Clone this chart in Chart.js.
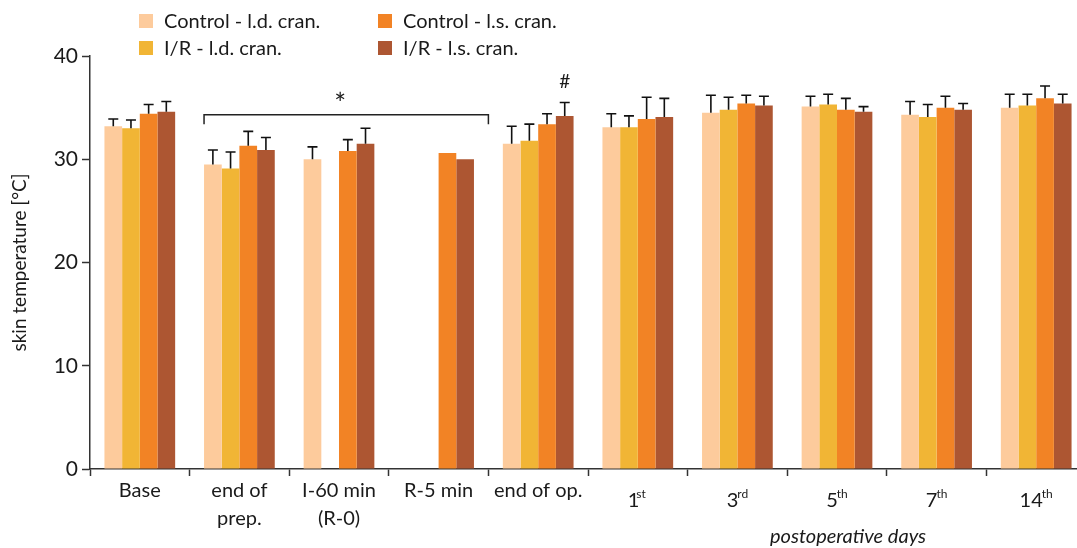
<!DOCTYPE html>
<html>
<head>
<meta charset="utf-8">
<script src="https://cdn.jsdelivr.net/npm/chart.js@4/dist/chart.umd.min.js"></script>
<style>
  html, body { margin: 0; background: #fff; overflow: hidden; }
  /* canvas is a bit wider than the window: the last category runs past the right edge */
  #wrap { width: 1077px; height: 548px; overflow: hidden; }
</style>
</head>
<body>
<div id="wrap">
  <canvas id="myChart" width="1086" height="548"></canvas>
</div>
<script>
  // categories (multi-line labels as arrays)
  const categories = ['Base', ['end of', 'prep.'], ['I-60 min', '(R-0)'], 'R-5 min', 'end of op.', '1st', '3rd', '5th', '7th', '14th'];
  const seriesNames = ['Control - l.d. cran.', 'I/R - l.d. cran.', 'Control - l.s. cran.', 'I/R - l.s. cran.'];
  const yTicks = [0, 10, 20, 30, 40];

  // mean values
  const ctrlLd = [33.2, 29.5, 30.0, null, 31.5, 33.1, 34.5, 35.1, 34.3, 35.0];
  const irLd   = [33.0, 29.1, null, null, 31.8, 33.1, 34.8, 35.3, 34.1, 35.2];
  const ctrlLs = [34.4, 31.3, 30.8, 30.6, 33.4, 33.9, 35.4, 34.8, 35.0, 35.9];
  const irLs   = [34.6, 30.9, 31.5, 30.0, 34.2, 34.1, 35.2, 34.6, 34.8, 35.4];

  // SD (upper error bars only)
  const ctrlLdSd = [0.7, 1.4, 1.2, null, 1.7, 1.3, 1.7, 1.0, 1.3, 1.3];
  const irLdSd   = [0.8, 1.6, null, null, 1.6, 1.1, 1.2, 1.0, 1.2, 1.1];
  const ctrlLsSd = [0.9, 1.4, 1.1, null, 1.0, 2.1, 0.8, 1.1, 1.1, 1.2];
  const irLsSd   = [1.0, 1.2, 1.5, null, 1.3, 1.8, 0.9, 0.5, 0.6, 0.9];

  const colors = ['#FDCB9C', '#F1B535', '#F28325', '#AD5632'];
  const FONT = 'Lato, "Open Sans", sans-serif';
  const INK = '#1a1a1a';

  const isOrdinal = (l) => typeof l === 'string' && /^\d+(st|nd|rd|th)$/.test(l);

  // error bars, legend, annotations, superscript labels
  const extras = {
    id: 'extras',
    afterDatasetsDraw(chart) {
      const ctx = chart.ctx;
      const y = chart.scales.y;
      ctx.save();
      ctx.strokeStyle = '#111';
      ctx.lineWidth = 1.6;
      chart.data.datasets.forEach((ds, di) => {
        const meta = chart.getDatasetMeta(di);
        ds.sd.forEach((sd, i) => {
          const v = ds.data[i];
          if (v == null || sd == null) return;
          const bar = meta.data[i];
          const top = y.getPixelForValue(v + sd);
          ctx.beginPath();
          ctx.moveTo(bar.x, bar.y);
          ctx.lineTo(bar.x, top);
          ctx.moveTo(bar.x - 5, top);
          ctx.lineTo(bar.x + 5, top);
          ctx.stroke();
        });
      });
      ctx.restore();
    },
    afterDraw(chart) {
      const ctx = chart.ctx;
      const x = chart.scales.x, y = chart.scales.y;
      ctx.save();

      // legend, 2 columns
      const legPos = [[139, 21], [139, 48], [378, 21], [378, 48]];
      ctx.font = '20px ' + FONT;
      ctx.textBaseline = 'middle';
      ctx.textAlign = 'left';
      chart.data.datasets.forEach((ds, i) => {
        const [lx, ly] = legPos[i];
        ctx.fillStyle = ds.backgroundColor;
        ctx.fillRect(lx, ly - 7, 14, 14);
        ctx.fillStyle = INK;
        ctx.fillText(ds.label, lx + 25, ly + 1);
      });

      // bracket over end of prep .. R-5 min with *
      const m0 = chart.getDatasetMeta(0);
      const bx1 = m0.data[1].x - m0.data[1].width / 2;
      const bx2 = (x.getPixelForValue(3) + x.getPixelForValue(4)) / 2;
      const by = y.getPixelForValue(34.3);
      const byEnd = y.getPixelForValue(33.4);
      ctx.strokeStyle = '#222';
      ctx.lineWidth = 1.5;
      ctx.beginPath();
      ctx.moveTo(bx1, byEnd);
      ctx.lineTo(bx1, by);
      ctx.lineTo(bx2, by);
      ctx.lineTo(bx2, byEnd);
      ctx.stroke();
      ctx.fillStyle = INK;
      ctx.textAlign = 'center';
      ctx.font = '28px ' + FONT;
      ctx.fillText('*', (bx1 + bx2) / 2 - 6, y.getPixelForValue(35.3));

      // # above I/R l.s. at end of op.
      const m3 = chart.getDatasetMeta(3);
      ctx.font = '19px ' + FONT;
      ctx.fillText('#', m3.data[4].x, y.getPixelForValue(37.5));

      // ordinal labels with superscript suffix
      categories.forEach((lab, i) => {
        if (!isOrdinal(lab)) return;
        const num = lab.slice(0, -2), suf = lab.slice(-2);
        ctx.font = '20px ' + FONT;
        const wn = ctx.measureText(num).width;
        ctx.font = '12px ' + FONT;
        const ws = ctx.measureText(suf).width;
        const cx = x.getPixelForValue(i);
        const sx = cx - (wn + ws - 1) / 2;
        ctx.textAlign = 'left';
        ctx.textBaseline = 'alphabetic';
        ctx.font = '20px ' + FONT;
        ctx.fillText(num, sx, 507);
        ctx.font = '12px ' + FONT;
        ctx.fillText(suf, sx + wn - (num === '1' ? 3 : 1), 498);
      });

      // group caption
      ctx.font = 'italic 20px ' + FONT;
      ctx.textAlign = 'center';
      ctx.textBaseline = 'middle';
      ctx.fillText('postoperative days', 848, 537);
      ctx.restore();
    }
  };

  const ctx = document.getElementById('myChart');
  new Chart(ctx, {
    type: 'bar',
    data: {
      labels: categories,
      datasets: [
        { label: seriesNames[0], data: ctrlLd, sd: ctrlLdSd, backgroundColor: colors[0] },
        { label: seriesNames[1], data: irLd, sd: irLdSd, backgroundColor: colors[1] },
        { label: seriesNames[2], data: ctrlLs, sd: ctrlLsSd, backgroundColor: colors[2] },
        { label: seriesNames[3], data: irLs, sd: irLsSd, backgroundColor: colors[3] }
      ]
    },
    options: {
      responsive: false,
      animation: false,
      layout: { padding: { top: 56, right: 0, bottom: 0, left: 0 } },
      datasets: { bar: { categoryPercentage: 0.71, barPercentage: 1.0 } },
      plugins: { legend: { display: false }, tooltip: { enabled: false } },
      scales: {
        x: {
          grid: { drawOnChartArea: false, drawTicks: true, tickLength: 7, tickColor: '#333', tickWidth: 1.5, offset: true },
          border: { color: '#333', width: 1.5 },
          ticks: {
            font: { family: FONT, size: 20, lineHeight: 1.4 },
            color: INK,
            padding: 1,
            maxRotation: 0,
            autoSkip: false,
            callback: (v, i) => isOrdinal(categories[i]) ? '' : categories[i]
          },
          afterFit: (s) => { s.height = 79; }
        },
        y: {
          min: 0,
          max: 40,
          afterBuildTicks: (s) => { s.ticks = yTicks.map(v => ({ value: v })); },
          grid: { drawOnChartArea: false, drawTicks: true, tickLength: 8, tickColor: '#333', tickWidth: 1.5 },
          border: { color: '#333', width: 1.5 },
          ticks: { font: { family: FONT, size: 21 }, color: INK, padding: 4 },
          title: { display: true, text: 'skin temperature [°C]', font: { family: FONT, size: 19 }, color: INK, padding: 8 },
          afterFit: (s) => { s.width = 90; }
        }
      }
    },
    plugins: [extras]
  });
</script>
</body>
</html>
